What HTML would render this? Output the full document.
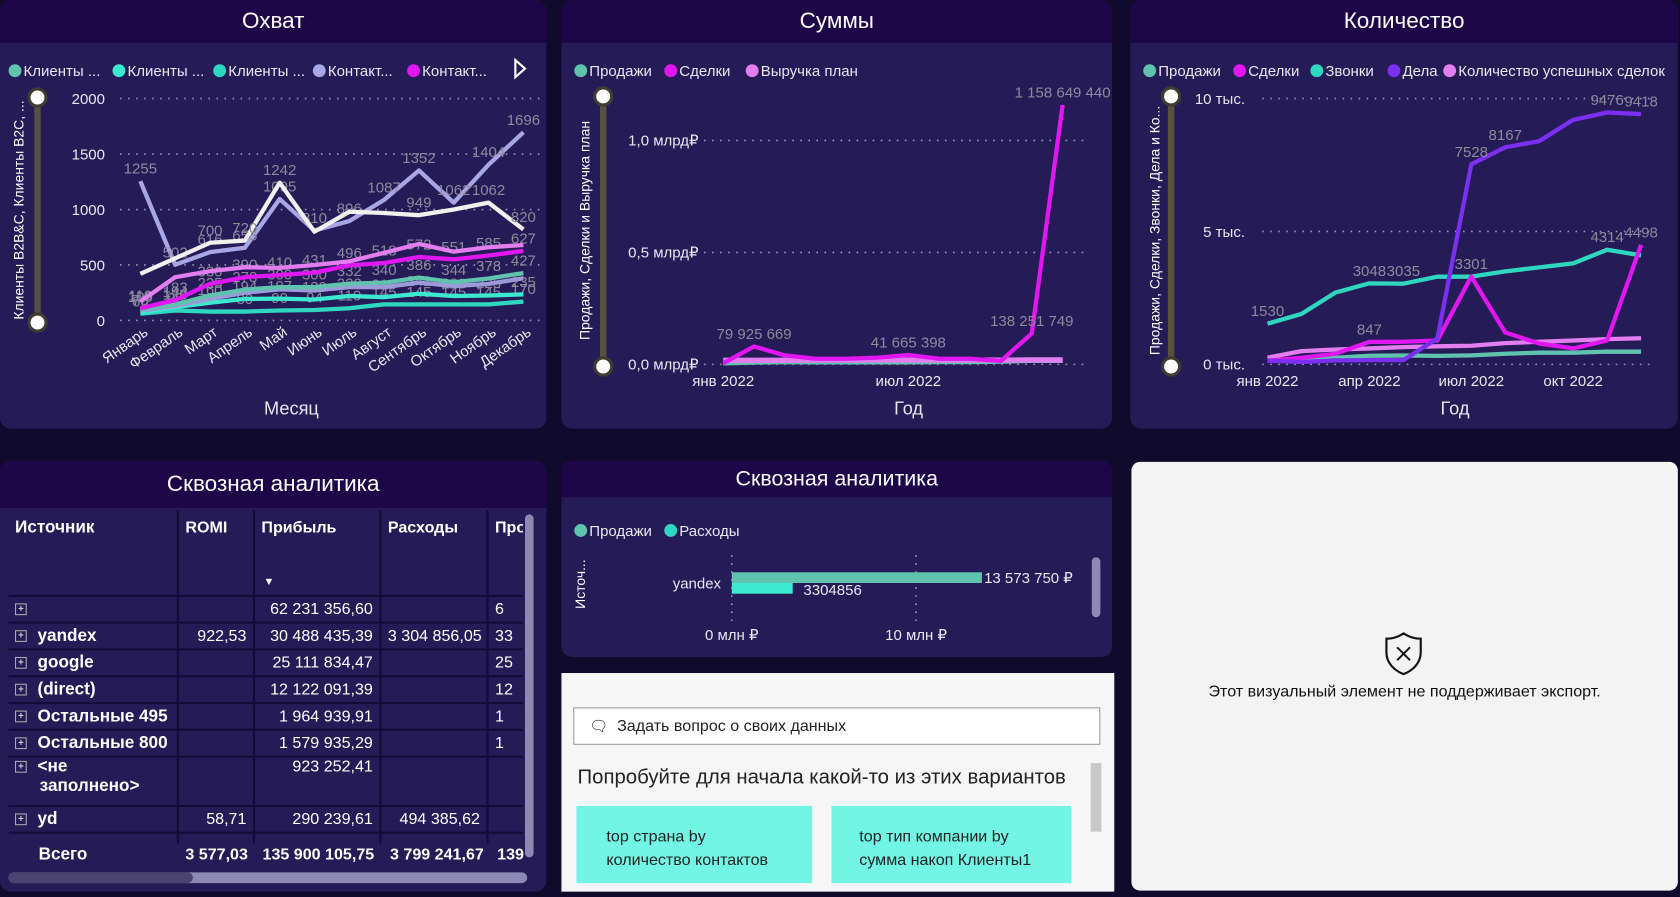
<!DOCTYPE html>
<html><head><meta charset="utf-8">
<style>
html,body{margin:0;padding:0;background:#100a2c;overflow:hidden;width:1680px;height:897px}
#wrap{position:absolute;left:0;top:0;width:1568px;height:837px;transform:scale(1.07143,1.0717);transform-origin:0 0;font-family:"Liberation Sans","DejaVu Sans",sans-serif;background:#100a2c}
.panel{position:absolute;background:#251b57;border-radius:10px;overflow:hidden}
.hdr{position:absolute;left:0;top:0;right:0;height:40px;background:#1e0748;color:#fff;font-size:21px;text-align:center;line-height:40px}
.abs{position:absolute}
table{border-collapse:collapse;color:#fff;font-size:15px;table-layout:fixed}
td{border-bottom:2px solid #140c38;border-right:2px solid #140c38;padding:0 6px;height:23px;white-space:nowrap;text-align:right;overflow:hidden}
td.src{text-align:left;font-weight:bold;font-size:16px}
.pl{display:inline-block;width:9px;height:9px;border:1px solid #aaa;font-size:9px;line-height:9px;text-align:center;color:#ccc;margin-right:10px;vertical-align:middle}
svg text{font-family:"Liberation Sans","DejaVu Sans",sans-serif}
</style></head><body>
<div id="wrap">
 <div class="panel" style="left:0;top:0;width:510px;height:400px"><div class="hdr">Охват</div></div>
 <div class="panel" style="left:524px;top:0;width:514px;height:400px"><div class="hdr">Суммы</div></div>
 <div class="panel" style="left:1055px;top:0;width:511px;height:400px"><div class="hdr">Количество</div></div>

 <div class="panel" style="left:0;top:430px;width:510px;height:402px">
  <div class="hdr" style="height:44px;line-height:44px">Сквозная аналитика</div>
  <div class="abs" style="left:8px;top:46px;width:480px;height:336px;overflow:hidden">
  <table style="width:520px">
   <colgroup><col style="width:158px"><col style="width:71px"><col style="width:118px"><col style="width:100px"><col style="width:73px"></colgroup>
   <tr style="height:80px;vertical-align:top;font-weight:bold"><td class="src" style="padding-top:8px">Источник</td><td style="text-align:left;padding-top:8px">ROMI</td><td style="text-align:left;padding-top:8px;position:relative">Прибыль<span style="position:absolute;left:8px;top:62px;font-size:10px">▼</span></td><td style="text-align:left;padding-top:8px">Расходы</td><td style="text-align:left;padding-top:8px">Про</td></tr>
   <tr><td class="src"><span class="pl">+</span></td><td></td><td>62 231 356,60</td><td></td><td style="text-align:left">6</td></tr>
   <tr><td class="src"><span class="pl">+</span>yandex</td><td>922,53</td><td>30 488 435,39</td><td>3 304 856,05</td><td style="text-align:left">33</td></tr>
   <tr><td class="src"><span class="pl">+</span>google</td><td></td><td>25 111 834,47</td><td></td><td style="text-align:left">25</td></tr>
   <tr><td class="src"><span class="pl">+</span>(direct)</td><td></td><td>12 122 091,39</td><td></td><td style="text-align:left">12</td></tr>
   <tr><td class="src"><span class="pl">+</span>Остальные 495</td><td></td><td>1 964 939,91</td><td></td><td style="text-align:left">1</td></tr>
   <tr><td class="src"><span class="pl">+</span>Остальные 800</td><td></td><td>1 579 935,29</td><td></td><td style="text-align:left">1</td></tr>
   <tr style="height:46px;vertical-align:top"><td class="src"><span class="pl">+</span>&lt;не<br><span style="margin-left:23px">заполнено&gt;</span></td><td></td><td>923 252,41</td><td></td><td></td></tr>
   <tr><td class="src"><span class="pl">+</span>yd</td><td>58,71</td><td>290 239,61</td><td>494 385,62</td><td></td></tr>
   <tr style="height:14px"><td></td><td></td><td></td><td></td><td></td></tr>
  </table></div>
  <div class="abs" style="left:0;top:357px;width:490px;height:22px;background:#251b57;color:#fff;font-weight:bold;font-size:15px">
   <span class="abs" style="left:36px;top:2px;font-size:16px">Всего</span><span class="abs" style="left:173px;top:2px">3 577,03</span><span class="abs" style="left:245px;top:2px">135 900 105,75</span><span class="abs" style="left:364px;top:2px">3 799 241,67</span><span class="abs" style="left:464px;top:2px">139</span></div>
  <div class="abs" style="left:8px;top:384px;width:484px;height:10px;border-radius:5px;background:#8e89b4"><div style="width:172px;height:10px;border-radius:5px;background:#4b4470"></div></div>
  <div class="abs" style="left:490px;top:50px;width:8px;height:320px;border-radius:4px;background:#8e89b4"></div>
 </div>

 <div class="panel" style="left:524px;top:430px;width:514px;height:183px"><div class="hdr" style="height:34px;line-height:34px;font-size:20px">Сквозная аналитика</div>
  <div class="abs" style="left:495px;top:90px;width:8px;height:56px;border-radius:4px;background:#8e89b4"></div></div>

 <div class="abs" style="left:524px;top:628px;width:516px;height:204px;background:#f6f6f6">
  <div class="abs" style="left:11px;top:32px;width:490px;height:33px;border:1px solid #999;background:#fff;font-size:15px;color:#222;line-height:33px"><span style="margin-left:14px;font-size:14px">🗨</span> <span style="margin-left:4px">Задать вопрос о своих данных</span></div>
  <div class="abs" style="left:15px;top:87px;font-size:19px;color:#222">Попробуйте для начала какой-то из этих вариантов</div>
  <div class="abs" style="left:494px;top:84px;width:10px;height:64px;background:#c8c8c8"></div>
  <div class="abs" style="left:14px;top:124px;width:220px;height:72px;background:#72f5e4;font-size:15px;color:#222;box-sizing:border-box;padding:18px 0 0 28px;line-height:22px">top страна by<br>количество контактов</div>
  <div class="abs" style="left:252px;top:124px;width:224px;height:72px;background:#72f5e4;font-size:15px;color:#222;box-sizing:border-box;padding:18px 0 0 26px;line-height:22px">top тип компании by<br>сумма накоп Клиенты1</div>
 </div>

 <div class="abs" style="left:1056px;top:431px;width:510px;height:400px;background:#f3f3f3;border-radius:8px">
  <svg class="abs" style="left:236px;top:158px" width="36" height="42" viewBox="0 0 36 42"><path d="M18 2 C12 6 6 7 2 7 L2 20 C2 30 10 37 18 40 C26 37 34 30 34 20 L34 7 C30 7 24 6 18 2 Z" fill="none" stroke="#111" stroke-width="2"/><path d="M12 15 L24 27 M24 15 L12 27" stroke="#111" stroke-width="1.8"/></svg>
  <div class="abs" style="left:0;top:206px;width:510px;text-align:center;font-size:15px;color:#111">Этот визуальный элемент не поддерживает экспорт.</div>
 </div>

 <svg id="sv" class="abs" style="left:0;top:0" width="1568" height="837"></svg>
</div>
<script>
// ===== Chart 1: Охват (monthly) =====
const c1Months=['Январь','Февраль','Март','Апрель','Май','Июнь','Июль','Август','Сентябрь','Октябрь','Ноябрь','Декабрь'];
const c1Ticks=[0,500,1000,1500,2000];
const c1White=[420,560,700,720,1242,800,980,969,949,1000,1062,820];
const c1Contacts=[1255,502,616,655,1095,810,896,1087,1352,1062,1404,1696];
const c1Pink=[170,390,444,480,474,500,532,610,690,620,660,680];
const c1Magenta=[110,183,330,390,410,431,496,518,572,551,585,627];
const c1Teal=[100,144,225,278,300,300,332,340,386,344,378,427];
const c1Lav=[90,130,194,250,280,270,300,300,341,310,330,380];
const c1Aqua=[70,120,160,194,197,189,220,210,241,220,225,235];
const c1Turq=[60,90,80,80,90,94,110,145,145,145,145,170];
// ===== Chart 2: Суммы =====
const c2Months=['янв','фев','мар','апр','май','июн','июл','авг','сен','окт','ноя','дек'];
const c2Ticks=[0,0.5e9,1e9];
const c2TickLabels=['0,0 млрд₽','0,5 млрд₽','1,0 млрд₽'];
const c2Deals=[5e6,79925669,40e6,25e6,25e6,30e6,41665398,25e6,25e6,15e6,138251749,1158649440];
const c2Plan=[18e6,18e6,18e6,19e6,19e6,19e6,19e6,19e6,19e6,19e6,20e6,20e6];
const c2Sales=[4614006,8e6,10370241,9e6,9e6,9e6,9e6,10e6,10e6,12e6,15985459,16e6];
const c2LabelIdx=[1,6,10,11];
// ===== Chart 3: Количество =====
const c3Ticks=[0,5000,10000];
const c3TickLabels=['0 тыс.','5 тыс.','10 тыс.'];
const c3Calls=[1530,1900,2700,3048,3035,3300,3300,3500,3650,3800,4314,4100];
const c3Tasks=[139,88,150,160,160,970,7528,8167,8400,9200,9476,9418];
const c3Deals=[139,250,400,847,850,900,3301,1200,785,600,900,4498];
const c3Success=[250,500,560,600,650,680,700,800,850,900,950,984];
const c3Sales=[150,200,250,323,333,320,340,400,440,440,480,477];
// ===== Bar chart =====
const barCats=['yandex'];
const barSales=[13573750];
const barCosts=[3304856];
const barTicks=[0,10e6];
const barTickLabels=['0 млн ₽','10 млн ₽'];

const sv=document.getElementById('sv');
const NS='http://www.w3.org/2000/svg';
function mk(tag,attrs,txt){const e=document.createElementNS(NS,tag);for(const k in attrs)e.setAttribute(k,attrs[k]);if(txt!==undefined)e.textContent=txt;sv.appendChild(e);return e;}
function fmt(v){return Math.round(v).toString().replace(/\B(?=(\d{3})+(?!\d))/g,' ');}

function legend(items,x,y,fs){let cx=x;items.forEach(it=>{const c=mk('circle',{cx:cx+6,cy:y,r:6,fill:it[1]});


const t=mk('text',{x:cx+14,y:y+5,fill:'#e8e6f0','font-size':fs||14},it[0]);


cx+=it[2];});}
function slider(x,y1,y2){const r=mk('rect',{x:x-3,y:y1,width:6,height:y2-y1,fill:'#57523f'});


[y1,y2].forEach(y=>{const c=mk('circle',{cx:x,cy:y,r:8,fill:'#fff',stroke:'#3f3b30','stroke-width':3});

});}
function grid(ticks,labels,yF,x1,x2,lx){ticks.forEach((t,i)=>{const l=mk('line',{x1:x1,x2:x2,y1:yF(t),y2:yF(t),stroke:'#9a96b8','stroke-width':1.5,'stroke-dasharray':'1.5 6'});


const tx=mk('text',{x:lx,y:yF(t)+5,fill:'#e8e6f0','font-size':14,'text-anchor':'end'},labels[i]);

});}
function series(vals,xF,yF,color,w,name,labels){const p=mk('polyline',{points:vals.map((v,i)=>xF(i)+','+yF(v)).join(' '),fill:'none',stroke:color,'stroke-width':w,'stroke-linejoin':'round'});


if(labels){vals.forEach((v,i)=>{if(labels===true||labels.includes(i)){const t=mk('text',{x:xF(i),y:yF(v)-7,fill:'#8d8a9c','font-size':14,'text-anchor':'middle'},labels.fmt?labels.fmt(v):Math.round(v));

}});}}

// Chart 1
(function(){const x=i=>131+i*32.5,y=v=>299-v/2000*207;
legend([['Клиенты ...','#5fc3ad',97],['Клиенты ...','#3ce8d0',94],['Клиенты ...','#2fd6c0',93],['Контакт...','#a9a6e6',88],['Контакт...','#e017f0',90]],8,66);
const a=mk('path',{d:'M481 56 L490 64 L481 72 Z',fill:'none',stroke:'#fff','stroke-width':2});


slider(35,91,301);
grid(c1Ticks,c1Ticks.map(String),y,112,505,98);
series(c1Turq,x,y,'#2fd6c0',4,'series-clients-3',true);
series(c1Aqua,x,y,'#3ce8d0',4,'series-clients-2',true);
series(c1Lav,x,y,'#9d9ad8',4,'series-contacts-2',false);
series(c1Teal,x,y,'#5fc3ad',4,'series-clients-1',true);
series(c1Magenta,x,y,'#e017f0',4,'series-contacts-magenta',true);
series(c1Pink,x,y,'#e37ef0',4,'series-pink',false);
series(c1Contacts,x,y,'#a9a6e6',4,'series-contacts',true);
series(c1White,x,y,'#f1f0ee',4,'series-white',[2,3,4,8,10,11]);
c1Months.forEach((m,i)=>{const t=mk('text',{x:x(i)+8,y:312,fill:'#e8e6f0','font-size':14,'text-anchor':'end',transform:'rotate(-35 '+(x(i)+8)+' 312)'},m);

});
const xt=mk('text',{x:272,y:387,fill:'#e8e6f0','font-size':17,'text-anchor':'middle'},'Месяц');


const yt=mk('text',{x:0,y:0,fill:'#fff','font-size':13,'text-anchor':'middle',transform:'translate(22,196) rotate(-90)'},'Клиенты B2B&C, Клиенты B2C, ...');


})();

// Chart 2
(function(){const x=i=>675+i*28.8,y=v=>340-v/1e9*209;
legend([['Продажи','#5fc3ad',84],['Сделки','#e017f0',76],['Выручка план','#e37ef0',120]],536,66);
slider(563,90,342);
grid(c2Ticks,c2TickLabels,y,657,1012,652);
series(c2Sales,x,y,'#5fc3ad',4,'series-sales',false);
series(c2Plan,x,y,'#e37ef0',5,'series-revenue-plan',false);
const lf={fmt:v=>fmt(v)};
series(c2Deals,x,y,'#e017f0',4,'series-deals',Object.assign(c2LabelIdx.slice(),lf));
[['янв 2022',0],['июл 2022',6]].forEach(a=>{const t=mk('text',{x:x(a[1]),y:360,fill:'#e8e6f0','font-size':14,'text-anchor':'middle'},a[0]);

});
const xt=mk('text',{x:848,y:387,fill:'#e8e6f0','font-size':17,'text-anchor':'middle'},'Год');


const yt=mk('text',{x:0,y:0,fill:'#fff','font-size':13,'text-anchor':'middle',transform:'translate(550,215) rotate(-90)'},'Продажи, Сделки и Выручка план');


})();

// Chart 3
(function(){const x=i=>1183+i*31.7,y=v=>340-v/10000*248;
legend([['Продажи','#5fc3ad',84],['Сделки','#e017f0',72],['Звонки','#2fd6c0',72],['Дела','#7b2ff0',52],['Количество успешных сделок','#e37ef0',220]],1067,66);
slider(1093,90,342);
grid(c3Ticks,c3TickLabels,y,1178,1540,1162);
series(c3Sales,x,y,'#5fc3ad',4,'series-sales',false);
series(c3Success,x,y,'#e37ef0',4,'series-successful-deals',false);
series(c3Calls,x,y,'#2fd6c0',4,'series-calls',[0,3,4,10]);
series(c3Deals,x,y,'#e017f0',4,'series-deals',[3,6,11]);
series(c3Tasks,x,y,'#7b2ff0',4,'series-tasks',[6,7,10,11]);
[['янв 2022',0],['апр 2022',3],['июл 2022',6],['окт 2022',9]].forEach(a=>{const t=mk('text',{x:x(a[1]),y:360,fill:'#e8e6f0','font-size':14,'text-anchor':'middle'},a[0]);

});
const xt=mk('text',{x:1358,y:387,fill:'#e8e6f0','font-size':17,'text-anchor':'middle'},'Год');


const yt=mk('text',{x:0,y:0,fill:'#fff','font-size':13,'text-anchor':'middle',transform:'translate(1082,215) rotate(-90)'},'Продажи, Сделки, Звонки, Дела и Ко...');


})();

// Bar chart
(function(){const x=v=>683+v/1e6*17.2;
legend([['Продажи','#5fc3ad',84],['Расходы','#2fd6c0',90]],536,495);
barTicks.forEach((t,i)=>{const l=mk('line',{x1:x(t),x2:x(t),y1:518,y2:580,stroke:'#9a96b8','stroke-width':1.5,'stroke-dasharray':'1.5 6'});


const tx=mk('text',{x:x(t),y:597,fill:'#e8e6f0','font-size':14,'text-anchor':'middle'},barTickLabels[i]);

});
barCats.forEach((c,i)=>{const yc=544+i*30;
const ct=mk('text',{x:673,y:yc+5,fill:'#e8e6f0','font-size':14,'text-anchor':'end'},c);


const b1=mk('rect',{x:x(0),y:yc-10,width:x(barSales[i])-x(0),height:10,fill:'#5fc3ad'});


const b2=mk('rect',{x:x(0),y:yc,width:x(barCosts[i])-x(0),height:10,fill:'#3ce8d0'});


const l1=mk('text',{x:x(barSales[i])+2,y:yc+0,fill:'#e8e6f0','font-size':14},fmt(barSales[i])+' ₽');


const l2=mk('text',{x:x(barCosts[i])+10,y:yc+11,fill:'#e8e6f0','font-size':14},String(barCosts[i]));

});
const yt=mk('text',{x:0,y:0,fill:'#fff','font-size':13,'text-anchor':'middle',transform:'translate(546,545) rotate(-90)'},'Источ...');


})();
</script>
</body></html>
